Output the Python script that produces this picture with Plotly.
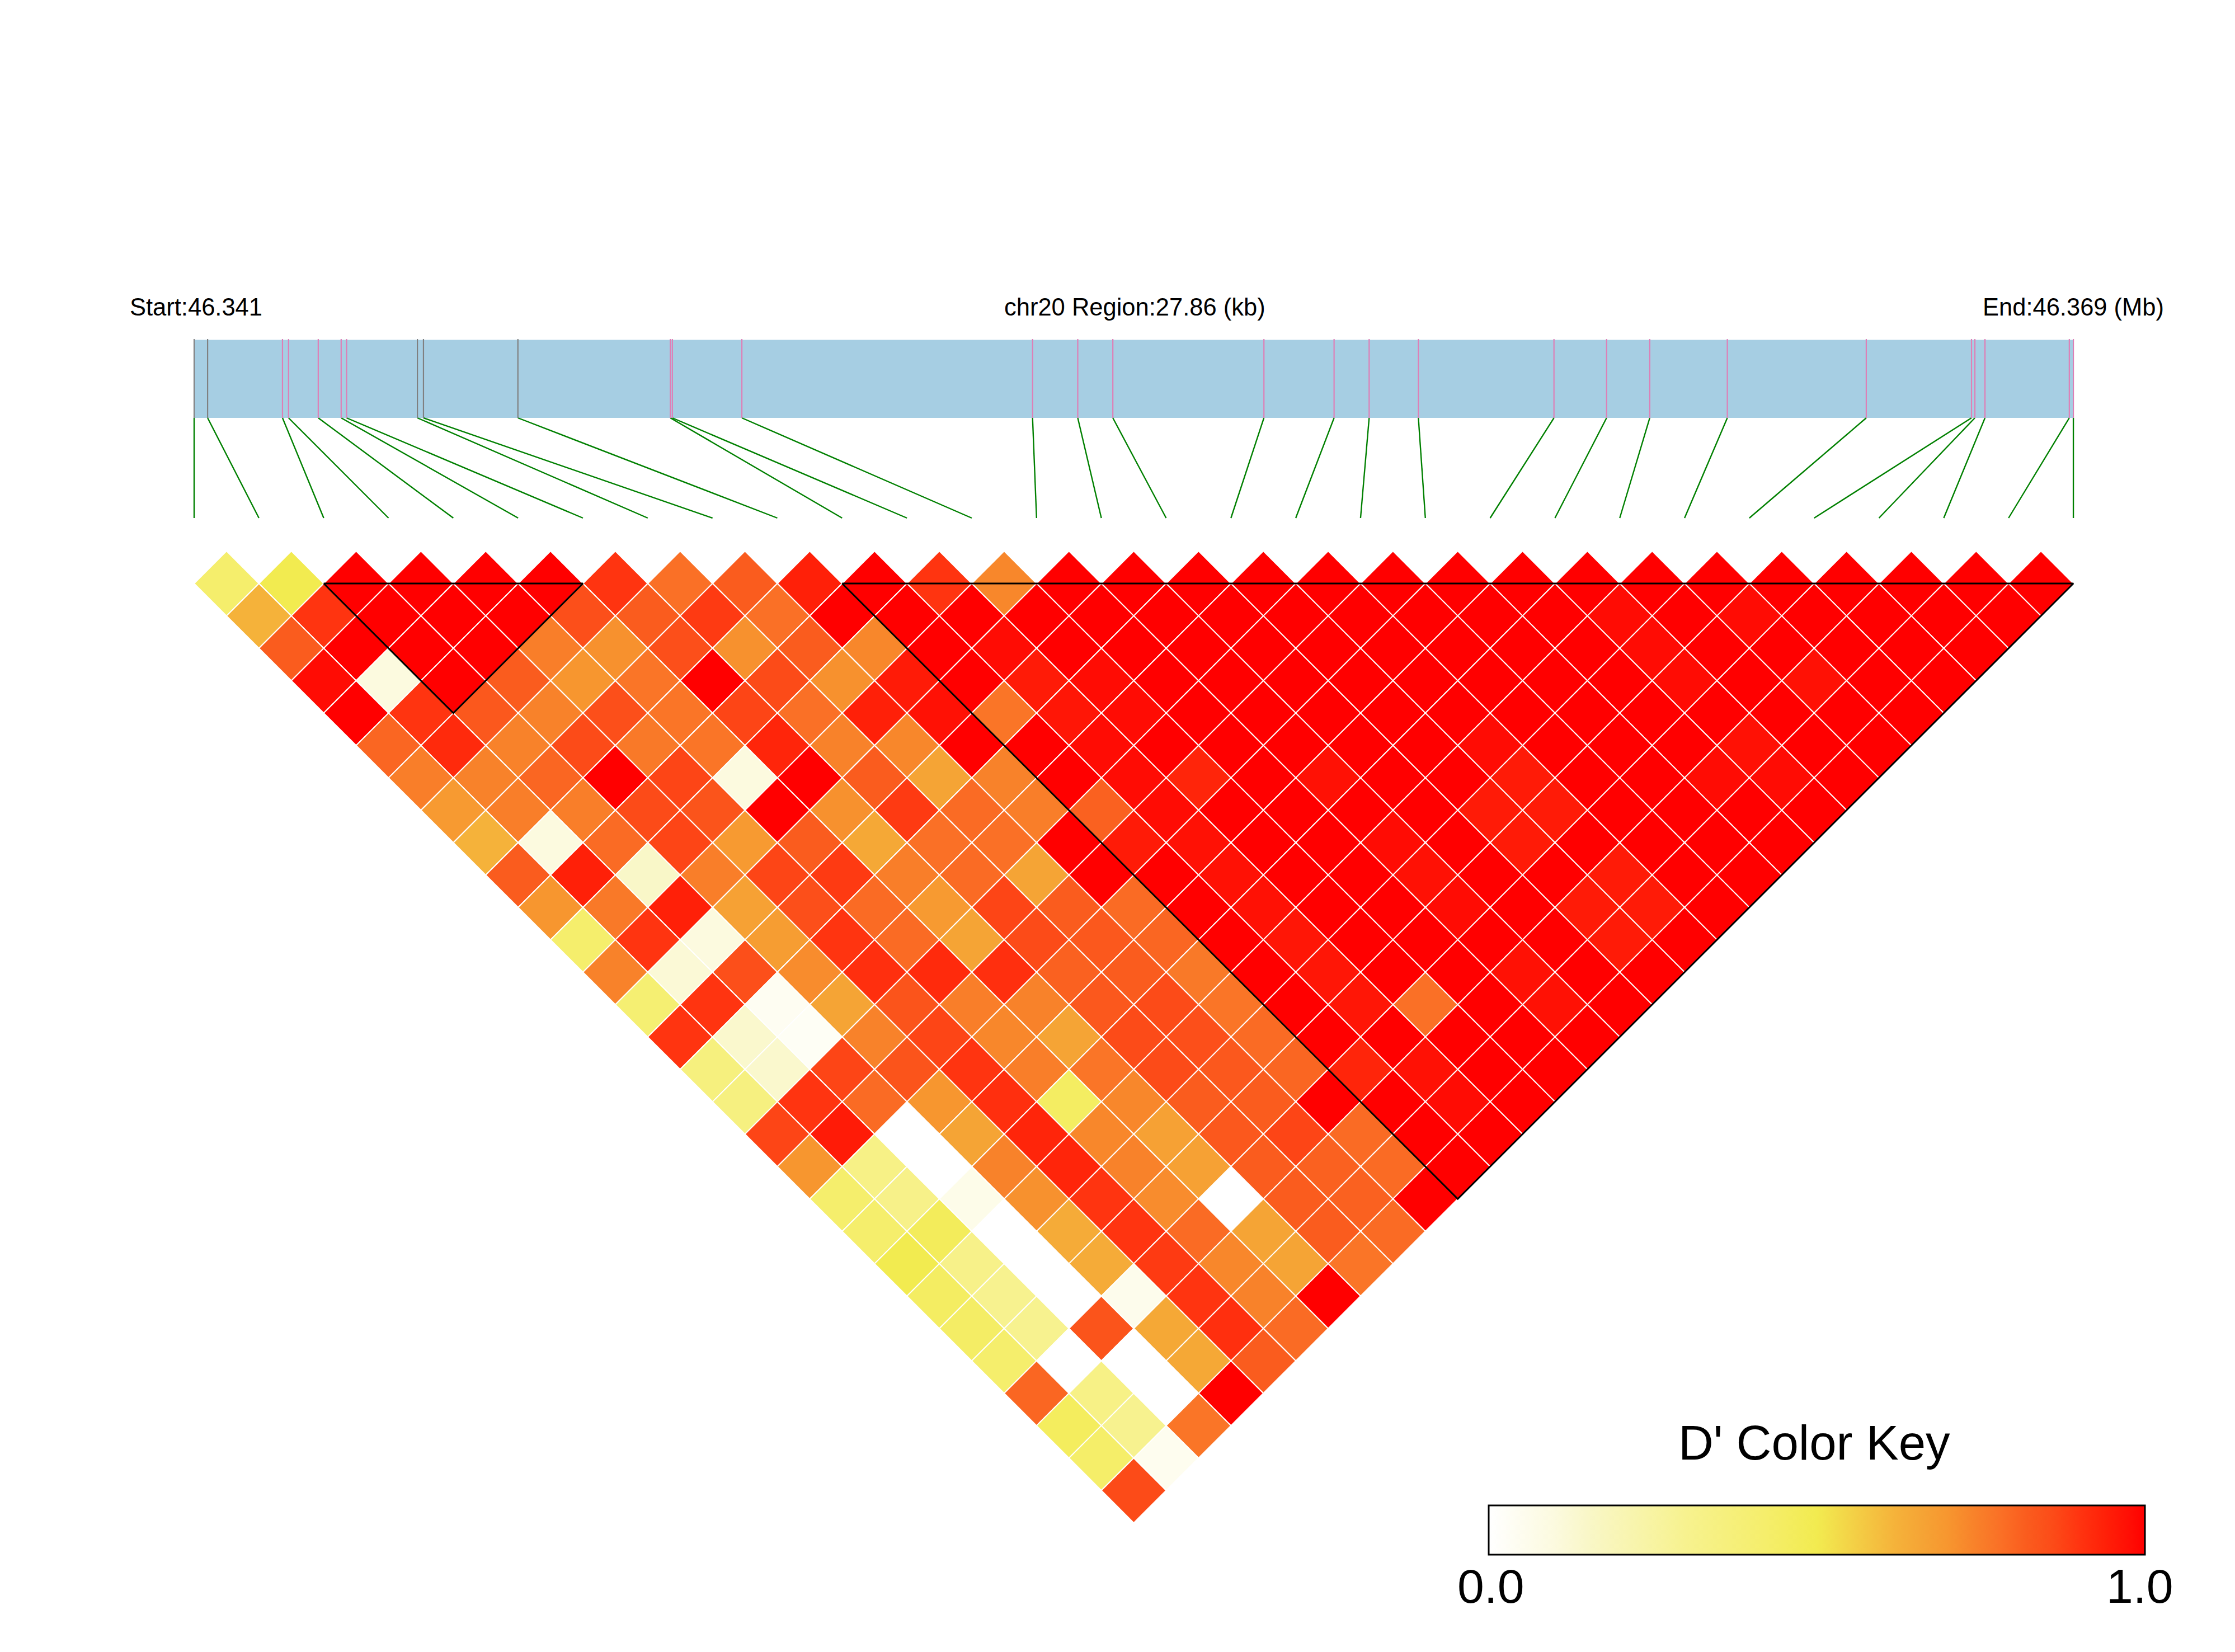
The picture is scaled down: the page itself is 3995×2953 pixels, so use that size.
import plotly.graph_objects as go

# SNP positions inside the region, kb from the region start
snp_kb = [0.00, 0.20, 1.31, 1.40, 1.84, 2.18, 2.26, 3.31, 3.40, 4.80,
          7.06, 7.09, 8.12, 12.43, 13.10, 13.62, 15.86, 16.90, 17.42, 18.15,
          20.16, 20.94, 21.58, 22.73, 24.79, 26.35, 26.40, 26.55, 27.80, 27.86]
region_kb = 27.86

# Bars drawn in grey on the gene track; the others are pink
grey_snps = [0, 1, 7, 8, 9]

# Pairwise D' by separation: row r holds pairs (c, c + r + 1)
d0 = [.42,.5,1,1,1,1,.9,.78,.82,.94,1,.9,.73,1,1,1,1,1,1,1,1,1,1,1,1,1,1,1,1]
d1 = [.62,.9,1,1,1,.85,.82,.89,.78,1,1,1,1,1,1,1,1,1,1,1,1,.98,1,.98,1,1,1,1]
d2 = [.82,1,1,1,.75,.71,.85,.71,.82,.73,1,.98,1,1,1,1,1,1,1,1,1,.98,1,1,1,1,1]
d3 = [.98,.1,1,.82,.7,.77,1,.86,.71,.95,1,.95,.98,1,1,1,1,1,1,1,1,.98,1,.97,1,1]
d4 = [1,.9,.83,.74,.85,.77,.87,.78,.94,.97,.77,.96,.98,1,1,1,1,1,1,1,1,1,1,1,1]
d5 = [.8,.92,.74,.86,.76,.77,.93,.74,.73,1,1,.98,1,1,1,1,1,.98,1,1,1,.97,1,1]
d6 = [.75,.74,.8,1,.87,.1,1,.82,.66,.74,1,.98,.93,1,.97,1,1,.95,1,1,.98,.98,1]
d7 = [.69,.75,.75,.86,.84,1,.71,.89,.79,.75,.81,.98,1,1,1,1,.95,.95,1,1,1,1]
d8 = [.62,.1,.79,.87,.69,.82,.65,.78,.78,1,.95,.97,1,1,.98,1,.95,1,1,1,1]
d9 = [.82,.94,.15,.75,.87,.89,.75,.79,.66,1,1,.97,1,1,.97,1,1,.95,1,1]
d10 = [.7,.76,.94,.67,.85,.79,.69,.87,.82,.79,1,.97,1,1,.98,1,.95,.95,1]
d11 = [.42,.9,.1,.68,.9,.79,.66,.86,.83,.8,1,.96,1,1,1,1,.95,1]
d12 = [.74,.12,.85,.72,.91,.92,.91,.81,.82,.76,1,.96,1,1,.97,1,1]
d13 = [.4,.9,.04,.66,.84,.75,.74,.83,.86,.77,1,.96,.78,1,.97,1]
d14 = [.9,.14,.03,.74,.87,.73,.66,.86,.85,.79,1,1,1,1,1]
d15 = [.36,.14,.87,.84,.9,.75,.77,.86,.83,.8,.93,.97,1,1]
d16 = [.35,.9,.79,.7,.91,.45,.73,.82,.82,1,1,.98,1]
d17 = [.87,.95,0,.66,.93,.73,.67,.83,.87,.79,1,1]
d18 = [.7,.33,0,.74,.93,.74,.67,.82,.81,.79,1]
d19 = [.42,.32,.07,.71,.9,.72,0,.82,.81,1]
d20 = [.42,.47,0,.64,.9,.79,.66,.82,.79]
d21 = [.5,.32,0,.64,.89,.73,.66,.77]
d22 = [.45,.3,0,.06,.9,.74,1]
d23 = [.44,.3,.84,.65,.91,.79]
d24 = [.42,0,0,.65,.82]
d25 = [.8,.33,0,1]
d26 = [.46,.3,.77]
d27 = [.43,.05]
d28 = [.86]
dprime = [d0, d1, d2, d3, d4, d5, d6, d7, d8, d9, d10, d11, d12, d13, d14,
          d15, d16, d17, d18, d19, d20, d21, d22, d23, d24, d25, d26, d27, d28]

# LD blocks as (first SNP, last SNP)
blocks = [(2, 6), (10, 29)]

dprime_scale = [
    [0.00, "#FFFFFF"], [0.10, "#FCFADF"], [0.15, "#F9F7C8"], [0.30, "#F7F28F"],
    [0.42, "#F5EE6C"], [0.50, "#F2EB50"], [0.62, "#F5B23A"], [0.66, "#F5A435"],
    [0.70, "#F7962F"], [0.74, "#F8822A"], [0.78, "#FA7026"], [0.82, "#FA5C1E"],
    [0.86, "#FC4B18"], [0.90, "#FF3410"], [0.94, "#FF2008"], [0.98, "#FF0C04"],
    [1.00, "#FF0000"],
]

W, H = 3995, 2953
LEFT, CELL = 347.0, 115.83      # px of SNP 0, px per SNP
TOP, ROW = 1043.0, 57.9         # px of the first row, px per row


def row_at(py):
    return (py - TOP) / ROW


def snp_at(kb):
    return kb / region_kb * (len(snp_kb) - 1)


cx, cy, cv = [], [], []
for r, values in enumerate(dprime):
    for c, v in enumerate(values):
        cx.append(c + (r + 1) / 2)
        cy.append(r)
        cv.append(v)

fig = go.Figure()

# Connectors from genomic position down to the evenly spaced SNP index
gx, gy = [], []
for i, kb in enumerate(snp_kb):
    gx += [snp_at(kb), i, None]
    gy += [row_at(747), row_at(926), None]
fig.add_trace(go.Scatter(x=gx, y=gy, mode="lines", hoverinfo="skip",
                         line=dict(color="#008000", width=2.4)))

# SNP ticks across the gene track
for colour, members in (("#808080", grey_snps),
                        ("#DE7FB6", [i for i in range(len(snp_kb)) if i not in grey_snps])):
    tx, ty = [], []
    for i in members:
        tx += [snp_at(snp_kb[i]), snp_at(snp_kb[i]), None]
        ty += [row_at(606), row_at(747), None]
    fig.add_trace(go.Scatter(x=tx, y=ty, mode="lines", hoverinfo="skip",
                             line=dict(color=colour, width=2.2)))

# Heat map cells
fig.add_trace(go.Scatter(
    x=cx, y=cy, mode="markers", hoverinfo="skip",
    marker=dict(
        symbol="diamond", size=2 * ROW / 1.3, color=cv, cmin=0, cmax=1,
        colorscale=dprime_scale,
        line=dict(color="white", width=2),
        colorbar=dict(
            orientation="h", lenmode="pixels", len=3834 - 2661,
            thicknessmode="pixels", thickness=88,
            x=2661 / W, xanchor="left", xpad=0,
            y=1 - 2782 / H, yanchor="bottom", ypad=0,
            outlinecolor="black", outlinewidth=3,
            ticks="", showticklabels=False,
        ),
    ),
))

# Block outlines
for first, last in blocks:
    depth = last - first
    fig.add_trace(go.Scatter(
        x=[first, last, (first + last) / 2, first],
        y=[0, 0, depth, 0], mode="lines", hoverinfo="skip",
        line=dict(color="black", width=3),
    ))

fig.add_shape(type="rect", xref="x", yref="y", layer="below", line_width=0,
              fillcolor="#A6CEE3", x0=0, x1=len(snp_kb) - 1,
              y0=row_at(607.5), y1=row_at(747))


def label(text, px, py, size):
    fig.add_annotation(text=text, xref="paper", yref="paper", x=px / W, y=1 - py / H,
                       xanchor="center", yanchor="middle", showarrow=False,
                       font=dict(family="Liberation Sans", size=size, color="black"))


label("Start:46.341", 350, 549, 43.5)
label("chr20 Region:27.86 (kb)", 2028, 549, 43.5)
label("End:46.369 (Mb)", 3706, 549, 43.5)
label("D' Color Key", 3243, 2578, 87)
label("0.0", 2665, 2835, 86)
label("1.0", 3825, 2835, 86)

fig.update_layout(
    width=W, height=H, autosize=False, showlegend=False,
    margin=dict(l=0, r=0, t=0, b=0, pad=0),
    paper_bgcolor="white", plot_bgcolor="white",
    xaxis=dict(visible=False, range=[-LEFT / CELL, (W - LEFT) / CELL], domain=[0, 1]),
    yaxis=dict(visible=False, range=[row_at(H), row_at(0)], domain=[0, 1]),
)

fig.write_html("out.html")
